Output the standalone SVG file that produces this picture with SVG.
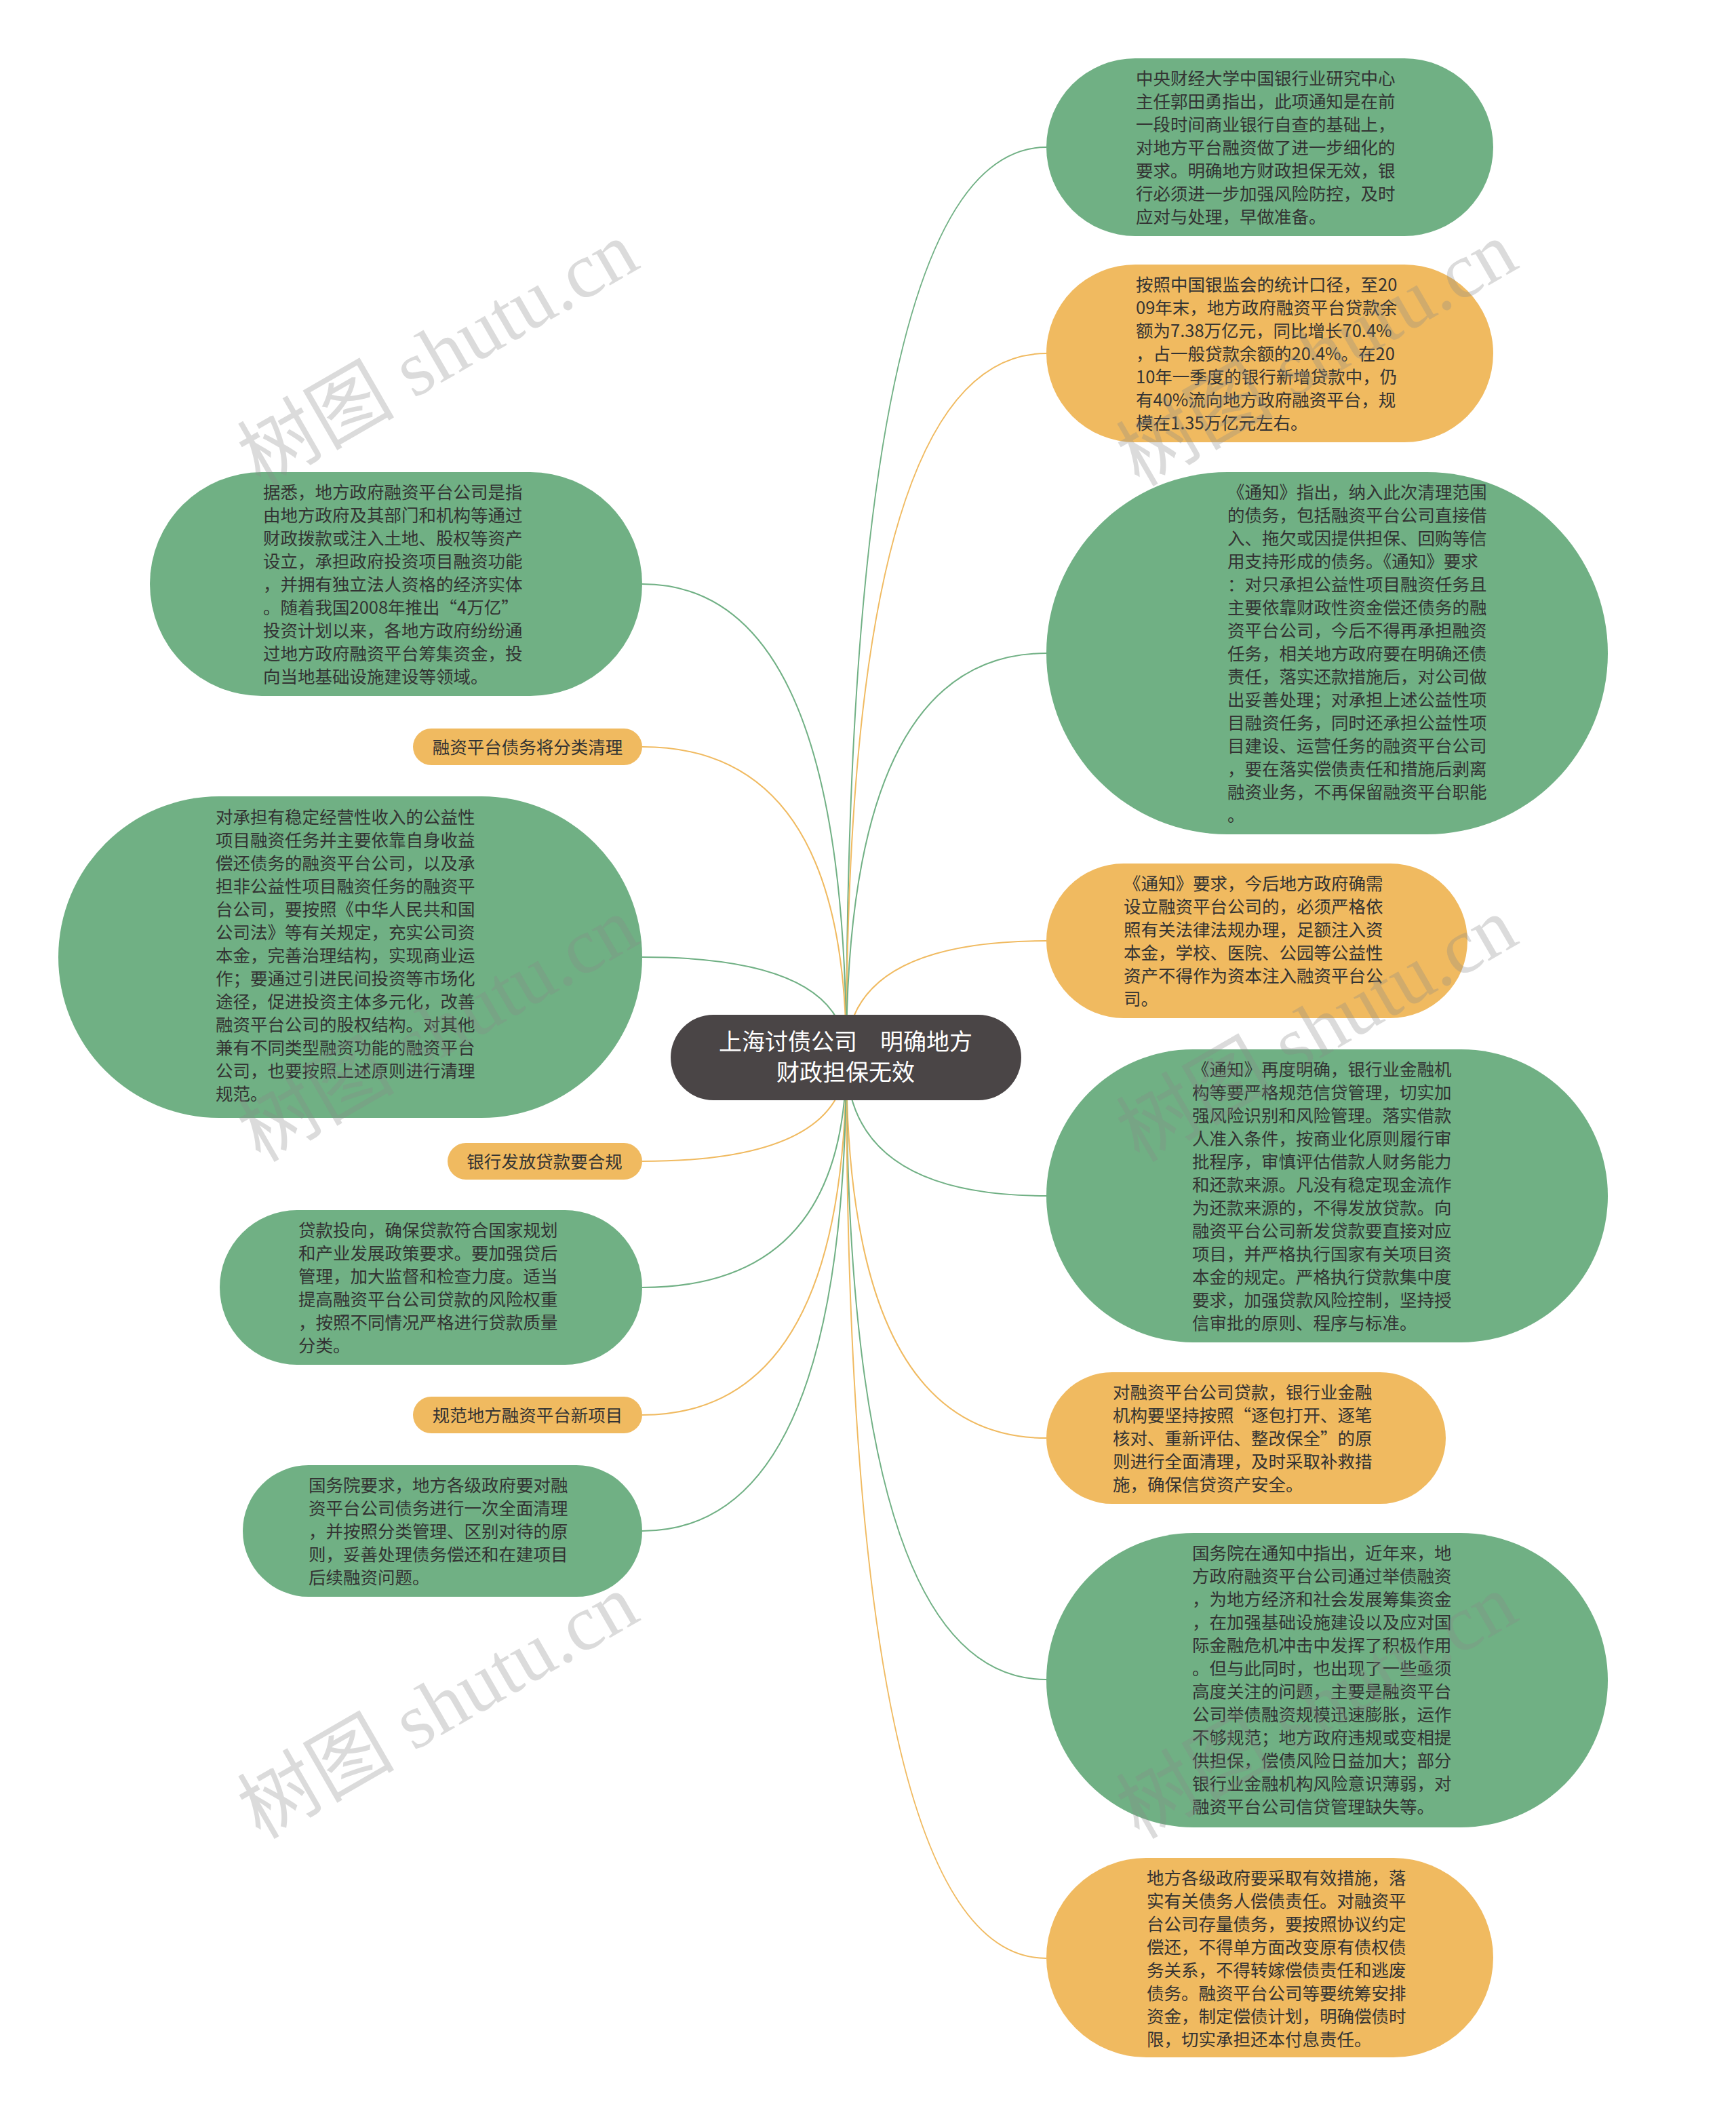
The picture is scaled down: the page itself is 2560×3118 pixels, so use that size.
<svg xmlns="http://www.w3.org/2000/svg" width="2560" height="3118" viewBox="0 0 2560 3118">
<style>
.bg{fill:#ffffff}
.g{fill:#70b084}
.o{fill:#f0ba60}
.root{fill:#4a4546}
.t{font-family:"Noto Sans CJK SC","Noto Sans",sans-serif;font-size:25.5px;fill:#333333}
.rt{font-family:"Noto Sans CJK SC","Noto Sans",sans-serif;font-size:34px;fill:#ffffff;text-anchor:middle}
.cg{fill:none;stroke:#70b084;stroke-width:2}
.co{fill:none;stroke:#f0ba60;stroke-width:2}
.wm{font-family:"Liberation Serif","Noto Sans CJK SC",serif;font-size:116px;fill:#888888;fill-opacity:0.3;text-anchor:middle;dominant-baseline:central}
</style>
<rect class="bg" x="0" y="0" width="2560" height="3118"/>
<g id="connectors">
<path class="cg" d="M1248 1558 Q1248 217 1543 217"/>
<path class="co" d="M1248 1558 Q1248 521 1543 521"/>
<path class="cg" d="M1248 1558 Q1248 963 1543 963"/>
<path class="co" d="M1248 1558 Q1248 1387 1543 1387"/>
<path class="cg" d="M1248 1558 Q1248 1763 1543 1763"/>
<path class="co" d="M1248 1558 Q1248 2120 1543 2120"/>
<path class="cg" d="M1248 1558 Q1248 2476 1543 2476"/>
<path class="co" d="M1248 1558 Q1248 2887 1543 2887"/>
<path class="cg" d="M1248 1558 Q1248 861 947 861"/>
<path class="co" d="M1248 1558 Q1248 1101 947 1101"/>
<path class="cg" d="M1248 1558 Q1248 1411 947 1411"/>
<path class="co" d="M1248 1558 Q1248 1712 947 1712"/>
<path class="cg" d="M1248 1558 Q1248 1898 947 1898"/>
<path class="co" d="M1248 1558 Q1248 2086 947 2086"/>
<path class="cg" d="M1248 1558 Q1248 2257 947 2257"/>
</g>
<g id="root">
<rect class="root" x="989" y="1496" width="517" height="126" rx="63"/>
<text class="rt"><tspan x="1247" y="1548">上海讨债公司　明确地方</tspan><tspan x="1247" y="1593">财政担保无效</tspan></text>
</g>
<g id="n1">
<rect class="g" x="1543" y="86" width="659" height="262" rx="131"/>
<text class="t"><tspan x="1675" y="124.5">中央财经大学中国银行业研究中心</tspan><tspan x="1675" dy="34">主任郭田勇指出，此项通知是在前</tspan><tspan x="1675" dy="34">一段时间商业银行自查的基础上，</tspan><tspan x="1675" dy="34">对地方平台融资做了进一步细化的</tspan><tspan x="1675" dy="34">要求。明确地方财政担保无效，银</tspan><tspan x="1675" dy="34">行必须进一步加强风险防控，及时</tspan><tspan x="1675" dy="34">应对与处理，早做准备。</tspan></text>
</g>
<g id="n2">
<rect class="o" x="1543" y="390" width="659" height="262" rx="131"/>
<text class="t"><tspan x="1675" y="428.5">按照中国银监会的统计口径，至20</tspan><tspan x="1675" dy="34">09年末，地方政府融资平台贷款余</tspan><tspan x="1675" dy="34">额为7.38万亿元，同比增长70.4%</tspan><tspan x="1675" dy="34">，占一般贷款余额的20.4%。在20</tspan><tspan x="1675" dy="34">10年一季度的银行新增贷款中，仍</tspan><tspan x="1675" dy="34">有40%流向地方政府融资平台，规</tspan><tspan x="1675" dy="34">模在1.35万亿元左右。</tspan></text>
</g>
<g id="n3">
<rect class="g" x="1543" y="696" width="828" height="534" rx="267"/>
<text class="t"><tspan x="1810" y="734.5">《通知》指出，纳入此次清理范围</tspan><tspan x="1810" dy="34">的债务，包括融资平台公司直接借</tspan><tspan x="1810" dy="34">入、拖欠或因提供担保、回购等信</tspan><tspan x="1810" dy="34">用支持形成的债务。《通知》要求</tspan><tspan x="1810" dy="34">：对只承担公益性项目融资任务且</tspan><tspan x="1810" dy="34">主要依靠财政性资金偿还债务的融</tspan><tspan x="1810" dy="34">资平台公司，今后不得再承担融资</tspan><tspan x="1810" dy="34">任务，相关地方政府要在明确还债</tspan><tspan x="1810" dy="34">责任，落实还款措施后，对公司做</tspan><tspan x="1810" dy="34">出妥善处理；对承担上述公益性项</tspan><tspan x="1810" dy="34">目融资任务，同时还承担公益性项</tspan><tspan x="1810" dy="34">目建设、运营任务的融资平台公司</tspan><tspan x="1810" dy="34">，要在落实偿债责任和措施后剥离</tspan><tspan x="1810" dy="34">融资业务，不再保留融资平台职能</tspan><tspan x="1810" dy="34">。</tspan></text>
</g>
<g id="n4">
<rect class="o" x="1543" y="1273" width="621" height="228" rx="114"/>
<text class="t"><tspan x="1657" y="1311.5">《通知》要求，今后地方政府确需</tspan><tspan x="1657" dy="34">设立融资平台公司的，必须严格依</tspan><tspan x="1657" dy="34">照有关法律法规办理，足额注入资</tspan><tspan x="1657" dy="34">本金，学校、医院、公园等公益性</tspan><tspan x="1657" dy="34">资产不得作为资本注入融资平台公</tspan><tspan x="1657" dy="34">司。</tspan></text>
</g>
<g id="n5">
<rect class="g" x="1543" y="1547" width="828" height="432" rx="216"/>
<text class="t"><tspan x="1758" y="1585.5">《通知》再度明确，银行业金融机</tspan><tspan x="1758" dy="34">构等要严格规范信贷管理，切实加</tspan><tspan x="1758" dy="34">强风险识别和风险管理。落实借款</tspan><tspan x="1758" dy="34">人准入条件，按商业化原则履行审</tspan><tspan x="1758" dy="34">批程序，审慎评估借款人财务能力</tspan><tspan x="1758" dy="34">和还款来源。凡没有稳定现金流作</tspan><tspan x="1758" dy="34">为还款来源的，不得发放贷款。向</tspan><tspan x="1758" dy="34">融资平台公司新发贷款要直接对应</tspan><tspan x="1758" dy="34">项目，并严格执行国家有关项目资</tspan><tspan x="1758" dy="34">本金的规定。严格执行贷款集中度</tspan><tspan x="1758" dy="34">要求，加强贷款风险控制，坚持授</tspan><tspan x="1758" dy="34">信审批的原则、程序与标准。</tspan></text>
</g>
<g id="n6">
<rect class="o" x="1543" y="2023" width="589" height="194" rx="97"/>
<text class="t"><tspan x="1641" y="2061.5">对融资平台公司贷款，银行业金融</tspan><tspan x="1641" dy="34">机构要坚持按照“逐包打开、逐笔</tspan><tspan x="1641" dy="34">核对、重新评估、整改保全”的原</tspan><tspan x="1641" dy="34">则进行全面清理，及时采取补救措</tspan><tspan x="1641" dy="34">施，确保信贷资产安全。</tspan></text>
</g>
<g id="n7">
<rect class="g" x="1543" y="2260" width="828" height="434" rx="217"/>
<text class="t"><tspan x="1758" y="2298.5">国务院在通知中指出，近年来，地</tspan><tspan x="1758" dy="34">方政府融资平台公司通过举债融资</tspan><tspan x="1758" dy="34">，为地方经济和社会发展筹集资金</tspan><tspan x="1758" dy="34">，在加强基础设施建设以及应对国</tspan><tspan x="1758" dy="34">际金融危机冲击中发挥了积极作用</tspan><tspan x="1758" dy="34">。但与此同时，也出现了一些亟须</tspan><tspan x="1758" dy="34">高度关注的问题，主要是融资平台</tspan><tspan x="1758" dy="34">公司举债融资规模迅速膨胀，运作</tspan><tspan x="1758" dy="34">不够规范；地方政府违规或变相提</tspan><tspan x="1758" dy="34">供担保，偿债风险日益加大；部分</tspan><tspan x="1758" dy="34">银行业金融机构风险意识薄弱，对</tspan><tspan x="1758" dy="34">融资平台公司信贷管理缺失等。</tspan></text>
</g>
<g id="n8">
<rect class="o" x="1543" y="2739" width="659" height="294" rx="147"/>
<text class="t"><tspan x="1691" y="2777.5">地方各级政府要采取有效措施，落</tspan><tspan x="1691" dy="34">实有关债务人偿债责任。对融资平</tspan><tspan x="1691" dy="34">台公司存量债务，要按照协议约定</tspan><tspan x="1691" dy="34">偿还，不得单方面改变原有债权债</tspan><tspan x="1691" dy="34">务关系，不得转嫁偿债责任和逃废</tspan><tspan x="1691" dy="34">债务。融资平台公司等要统筹安排</tspan><tspan x="1691" dy="34">资金，制定偿债计划，明确偿债时</tspan><tspan x="1691" dy="34">限，切实承担还本付息责任。</tspan></text>
</g>
<g id="l1">
<rect class="g" x="221" y="696" width="726" height="330" rx="165"/>
<text class="t"><tspan x="388" y="734.5">据悉，地方政府融资平台公司是指</tspan><tspan x="388" dy="34">由地方政府及其部门和机构等通过</tspan><tspan x="388" dy="34">财政拨款或注入土地、股权等资产</tspan><tspan x="388" dy="34">设立，承担政府投资项目融资功能</tspan><tspan x="388" dy="34">，并拥有独立法人资格的经济实体</tspan><tspan x="388" dy="34">。随着我国2008年推出“4万亿”</tspan><tspan x="388" dy="34">投资计划以来，各地方政府纷纷通</tspan><tspan x="388" dy="34">过地方政府融资平台筹集资金，投</tspan><tspan x="388" dy="34">向当地基础设施建设等领域。</tspan></text>
</g>
<g id="l2">
<rect class="o" x="609" y="1074" width="338" height="54" rx="27"/>
<text class="t" text-anchor="middle"><tspan x="778" y="1110.5">融资平台债务将分类清理</tspan></text>
</g>
<g id="l3">
<rect class="g" x="86" y="1174" width="861" height="474" rx="237"/>
<text class="t"><tspan x="318" y="1214">对承担有稳定经营性收入的公益性</tspan><tspan x="318" dy="34">项目融资任务并主要依靠自身收益</tspan><tspan x="318" dy="34">偿还债务的融资平台公司，以及承</tspan><tspan x="318" dy="34">担非公益性项目融资任务的融资平</tspan><tspan x="318" dy="34">台公司，要按照《中华人民共和国</tspan><tspan x="318" dy="34">公司法》等有关规定，充实公司资</tspan><tspan x="318" dy="34">本金，完善治理结构，实现商业运</tspan><tspan x="318" dy="34">作；要通过引进民间投资等市场化</tspan><tspan x="318" dy="34">途径，促进投资主体多元化，改善</tspan><tspan x="318" dy="34">融资平台公司的股权结构。对其他</tspan><tspan x="318" dy="34">兼有不同类型融资功能的融资平台</tspan><tspan x="318" dy="34">公司，也要按照上述原则进行清理</tspan><tspan x="318" dy="34">规范。</tspan></text>
</g>
<g id="l4">
<rect class="o" x="660" y="1685" width="287" height="54" rx="27"/>
<text class="t" text-anchor="middle"><tspan x="803" y="1721.5">银行发放贷款要合规</tspan></text>
</g>
<g id="l5">
<rect class="g" x="324" y="1784" width="623" height="228" rx="114"/>
<text class="t"><tspan x="440" y="1822.5">贷款投向，确保贷款符合国家规划</tspan><tspan x="440" dy="34">和产业发展政策要求。要加强贷后</tspan><tspan x="440" dy="34">管理，加大监督和检查力度。适当</tspan><tspan x="440" dy="34">提高融资平台公司贷款的风险权重</tspan><tspan x="440" dy="34">，按照不同情况严格进行贷款质量</tspan><tspan x="440" dy="34">分类。</tspan></text>
</g>
<g id="l6">
<rect class="o" x="609" y="2059" width="338" height="54" rx="27"/>
<text class="t" text-anchor="middle"><tspan x="778" y="2095.5">规范地方融资平台新项目</tspan></text>
</g>
<g id="l7">
<rect class="g" x="358" y="2160" width="589" height="194" rx="97"/>
<text class="t"><tspan x="455" y="2198.5">国务院要求，地方各级政府要对融</tspan><tspan x="455" dy="34">资平台公司债务进行一次全面清理</tspan><tspan x="455" dy="34">，并按照分类管理、区别对待的原</tspan><tspan x="455" dy="34">则，妥善处理债务偿还和在建项目</tspan><tspan x="455" dy="34">后续融资问题。</tspan></text>
</g>
<g id="watermarks">
<text class="wm" transform="translate(646 522) rotate(-30)">树图 shutu.cn</text>
<text class="wm" transform="translate(1942 522) rotate(-30)">树图 shutu.cn</text>
<text class="wm" transform="translate(646 1518) rotate(-30)">树图 shutu.cn</text>
<text class="wm" transform="translate(1942 1518) rotate(-30)">树图 shutu.cn</text>
<text class="wm" transform="translate(646 2516) rotate(-30)">树图 shutu.cn</text>
<text class="wm" transform="translate(1942 2516) rotate(-30)">树图 shutu.cn</text>
</g>
</svg>
